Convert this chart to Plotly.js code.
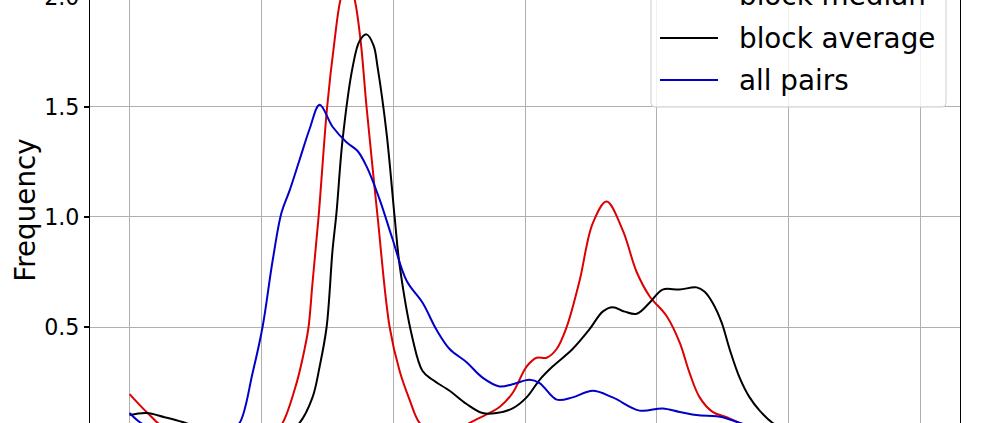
<!DOCTYPE html>
<html><head><meta charset="utf-8">
<script src="https://cdn.plot.ly/plotly-3.0.1.min.js"></script>
<style>
html,body{margin:0;padding:0;overflow:hidden;width:995px;height:423px;background:#fff}
#chart{position:absolute;left:0;top:-50px;width:995px;height:560px}
</style>
</head><body><div id="chart"></div>
<script>
// Series names and colours (legend order)
var seriesNames = ["block median", "block average", "all pairs"];
var seriesColors = ["#dd0000", "#000000", "#0000c8"];

// block median (red)
var medianX = [0, 0.137, 0.266, 0.455, 0.759, 0.986, 1.100, 1.161, 1.267, 1.328, 1.358, 1.388, 1.434, 1.499, 1.555, 1.601, 1.654, 1.707, 1.753, 1.798, 1.882, 1.973, 2.049, 2.124, 2.200, 2.314, 2.466, 2.580, 2.807, 2.906, 3.012, 3.088, 3.164, 3.240, 3.316, 3.414, 3.513, 3.619, 3.741, 3.847, 3.945, 4.074, 4.173, 4.249, 4.325, 4.423, 4.530, 4.628, 4.780, 5.008, 5.690, 6.0];
var medianY = [0.195, 0.109, 0.04, 0.005, 0.0, 0.005, 0.025, 0.064, 0.245, 0.40, 0.50, 0.70, 1.00, 1.50, 1.80, 1.99, 2.08, 1.99, 1.80, 1.50, 1.00, 0.50, 0.30, 0.17, 0.064, 0.01, 0.02, 0.064, 0.136, 0.20, 0.32, 0.36, 0.36, 0.40, 0.50, 0.71, 0.97, 1.07, 0.94, 0.75, 0.64, 0.55, 0.43, 0.29, 0.18, 0.114, 0.09, 0.064, 0.03, 0.005, 0.0, 0.0];

// block average (black)
var averageX = [0, 0.129, 0.266, 0.402, 0.531, 0.759, 1.062, 1.214, 1.290, 1.388, 1.442, 1.495, 1.540, 1.570, 1.616, 1.692, 1.745, 1.798, 1.851, 1.882, 1.950, 2.011, 2.049, 2.146, 2.223, 2.299, 2.428, 2.557, 2.678, 2.784, 2.906, 3.012, 3.111, 3.209, 3.361, 3.490, 3.589, 3.665, 3.756, 3.847, 3.945, 4.044, 4.173, 4.302, 4.363, 4.423, 4.492, 4.552, 4.628, 4.704, 4.780, 4.879, 5.008, 5.235, 5.690, 6.0];
var averageY = [0.10, 0.109, 0.09, 0.068, 0.04, 0.01, 0.0, 0.025, 0.064, 0.18, 0.32, 0.50, 0.85, 1.02, 1.35, 1.68, 1.80, 1.83, 1.78, 1.68, 1.38, 1.00, 0.78, 0.45, 0.30, 0.26, 0.21, 0.15, 0.109, 0.109, 0.13, 0.18, 0.26, 0.32, 0.40, 0.49, 0.57, 0.59, 0.57, 0.56, 0.61, 0.67, 0.67, 0.68, 0.66, 0.61, 0.52, 0.40, 0.27, 0.18, 0.12, 0.064, 0.02, 0.003, 0.0, 0.0];

// all pairs (blue)
var pairsX = [0, 0.076, 0.190, 0.379, 0.607, 0.759, 0.835, 0.933, 1.009, 1.085, 1.153, 1.214, 1.290, 1.366, 1.442, 1.540, 1.646, 1.730, 1.798, 1.897, 1.995, 2.102, 2.223, 2.330, 2.428, 2.557, 2.678, 2.807, 2.906, 3.035, 3.111, 3.240, 3.361, 3.513, 3.665, 3.870, 4.044, 4.173, 4.302, 4.499, 4.628, 4.856, 5.083, 5.690, 6.0];
var pairsY = [0.109, 0.068, 0.03, 0.01, 0.01, 0.03, 0.064, 0.29, 0.50, 0.80, 1.02, 1.12, 1.26, 1.40, 1.51, 1.41, 1.34, 1.30, 1.23, 1.08, 0.90, 0.71, 0.61, 0.486, 0.40, 0.34, 0.27, 0.23, 0.24, 0.26, 0.245, 0.17, 0.18, 0.21, 0.18, 0.12, 0.13, 0.114, 0.10, 0.09, 0.064, 0.03, 0.01, 0.0, 0.0];

// axis ticks
var yTickVals = [0, 0.5, 1.0, 1.5, 2.0];
var yTickText = ["0.0", "0.5", "1.0", "1.5", "2.0"];
var xTickVals = [0, 1, 2, 3, 4, 5, 6];

var xs = [medianX, averageX, pairsX];
var ys = [medianY, averageY, pairsY];

var traces = [];
for (var i = 0; i < 3; i++) {
  traces.push({
    type: "scatter", mode: "lines", name: seriesNames[i],
    x: xs[i], y: ys[i],
    line: {color: seriesColors[i], width: 2, shape: "spline", smoothing: 1},
    hoverinfo: "skip"
  });
}

// layout helpers: page pixel -> paper coordinates (plot area 90..960 x, -40..460 y within page)
var W = 995, H = 560, ML = 90, MR = 35, MT = 10, MB = 50, TOPOFF = -50;
function px(x) { return (x - ML) / (W - ML - MR); }
function py(y) { var top = TOPOFF + MT, h = H - MT - MB; return (top + h - y) / h; }

var shapes = [];
var annotations = [];
// legend box with rounded corners
(function () {
  var X0 = px(651), X1 = px(946), Yt = py(-31), Yb = py(107);
  var rx = 4 / (W - ML - MR), ry = 4 / (H - MT - MB);
  var p = "M" + (X0 + rx) + "," + Yb + " L" + (X1 - rx) + "," + Yb +
    " Q" + X1 + "," + Yb + " " + X1 + "," + (Yb + ry) +
    " L" + X1 + "," + (Yt - ry) +
    " Q" + X1 + "," + Yt + " " + (X1 - rx) + "," + Yt +
    " L" + (X0 + rx) + "," + Yt +
    " Q" + X0 + "," + Yt + " " + X0 + "," + (Yt - ry) +
    " L" + X0 + "," + (Yb + ry) +
    " Q" + X0 + "," + Yb + " " + (X0 + rx) + "," + Yb + " Z";
  shapes.push({type: "path", xref: "paper", yref: "paper", path: p,
    fillcolor: "rgba(255,255,255,0.8)", line: {color: "#cccccc", width: 1}, layer: "above"});
})();
var legendRows = [-4, 38, 80];
for (var k = 0; k < 3; k++) {
  shapes.push({type: "line", xref: "paper", yref: "paper",
    x0: px(660), x1: px(718), y0: py(legendRows[k]), y1: py(legendRows[k]),
    line: {color: seriesColors[k], width: 2}, layer: "above"});
  annotations.push({xref: "paper", yref: "paper", x: px(737), y: py(legendRows[k]),
    xanchor: "left", yanchor: "middle", showarrow: false, text: seriesNames[k],
    font: {family: "DejaVu Sans", size: 27.8, color: "#000"}});
}

var layout = {
  width: W, height: H,
  margin: {l: ML, r: MR, t: MT, b: MB, pad: 0},
  paper_bgcolor: "#fff", plot_bgcolor: "#fff",
  showlegend: false,
  font: {family: "DejaVu Sans", color: "#000"},
  xaxis: {
    range: [-0.3, 6.3], tickvals: xTickVals,
    showgrid: true, gridcolor: "#b0b0b0", gridwidth: 1,
    zeroline: false, showline: true, linecolor: "#000", linewidth: 1.1, mirror: true,
    ticks: "outside", ticklen: 5, tickcolor: "#000",
    tickfont: {size: 22.2, color: "#000"}
  },
  yaxis: {
    range: [-0.1045, 2.168],
    tickvals: yTickVals, ticktext: yTickText,
    showgrid: true, gridcolor: "#b0b0b0", gridwidth: 1,
    zeroline: false, showline: true, linecolor: "#000", linewidth: 1.1, mirror: true,
    ticks: "outside", ticklen: 5, tickwidth: 1.1, tickcolor: "#000",
    tickfont: {size: 22.2, color: "#000"},
    title: {text: "Frequency", font: {size: 27.8, color: "#000"}, standoff: 0}
  },
  shapes: shapes,
  annotations: annotations
};

Plotly.newPlot("chart", traces, layout, {displayModeBar: false, staticPlot: true});
</script></body></html>
